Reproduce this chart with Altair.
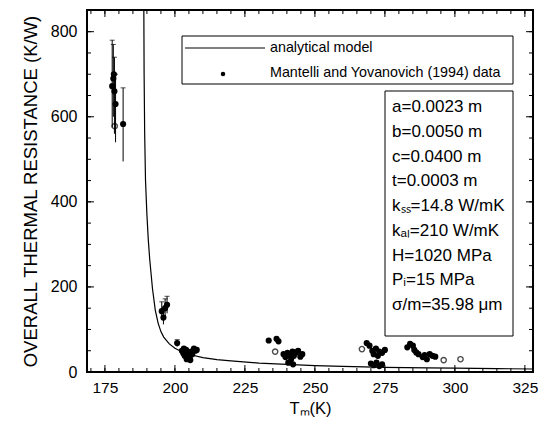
import altair as alt
import pandas as pd

# ---------------- data ----------------
# analytical model curve
model_T = [188.9, 189.0, 189.2, 189.5, 190.0, 190.5, 191.0, 192.0, 193.0, 194.0,
           195.0, 196.0, 198.0, 200.0, 203.0, 206.0, 210.0, 215.0, 220.0, 230.0,
           240.0, 250.0, 260.0, 275.0, 290.0, 300.0, 315.0, 327.9]
model_R = [851, 700, 560, 450, 370, 310, 265, 195, 145, 115,
           95, 82, 66, 56, 46, 40, 34, 29, 26, 21,
           18, 15, 13, 11, 9.5, 9, 8, 7]

# measured points with error bars
eb_T = [177.6, 178.0, 178.4, 178.8, 181.5, 195.3, 195.9, 196.5, 197.2, 200.8]
eb_R = [672, 690, 660, 630, 583, 143, 128, 150, 158, 68]
eb_lo = [575, 600, 560, 540, 495, 122, 112, 130, 138, 60]
eb_hi = [780, 770, 740, 700, 668, 165, 150, 172, 178, 76]

# remaining measured points (no visible error bars)
pt_T = [178.5, 178.2,
        202.5, 203.0, 203.5, 204.0, 204.5, 205.0, 205.3, 205.8, 206.2, 206.8, 207.3, 207.8, 204.2, 205.5, 203.2,
        233.5, 236.3, 237.0, 235.8, 238.8, 239.5, 240.2, 241.0, 241.5, 242.0, 242.5, 243.2, 244.0, 244.8, 245.5, 240.5, 242.2,
        266.8, 268.5, 269.5, 270.5, 271.0, 271.8, 272.5, 273.0, 274.0, 275.0, 270.0, 271.0, 272.0, 273.0, 274.0,
        283.0, 284.0, 285.0, 285.5, 286.2, 287.0, 288.5, 289.2, 290.0, 291.0, 292.0, 293.0, 296.0, 302.0]
pt_R = [578, 700,
        50, 44, 38, 52, 46, 40, 35, 48, 42, 55, 50, 52, 30, 28, 55,
        74, 78, 72, 48, 42, 35, 45, 40, 30, 48, 38, 46, 50, 36, 42, 22, 18,
        54, 68, 62, 50, 42, 55, 38, 48, 45, 52, 20, 16, 22, 14, 18,
        58, 66, 62, 52, 46, 42, 35, 40, 30, 42, 38, 36, 28, 30]
pt_open = [True, False,
           False, False, False, False, False, False, False, False, False, False, False, False, False, False, False,
           False, False, False, True, False, False, False, False, False, False, False, False, False, False, False, False, False,
           True, False, False, False, False, False, False, False, False, False, False, False, False, False, False,
           False, False, False, False, False, False, False, False, False, False, False, False, True, True]

x_ticks = [175, 200, 225, 250, 275, 300, 325]
y_ticks = [0, 200, 400, 600, 800]
x_minor = list(range(170, 330, 5))
y_minor = list(range(0, 851, 50))

legend_labels = ["analytical model", "Mantelli and Yovanovich (1994) data"]
param_labels = ["a=0.0023 m", "b=0.0050 m", "c=0.0400 m", "t=0.0003 m",
                "k\u209b\u209b=14.8 W/mK", "k\u2090\u2097=210 W/mK", "H=1020 MPa",
                "P\u1d62=15 MPa", "\u03c3/m=35.98 \u03bcm"]

# ---------------- chart ----------------
W, H = 446, 362
XD = [168.6, 327.9]
YD = [0, 851]
FONT = "Liberation Sans"

xs = alt.Scale(domain=XD, nice=False, zero=False)
ys = alt.Scale(domain=YD, nice=False, zero=False)

model_df = pd.DataFrame({"T": model_T, "R": model_R})
eb_df = pd.DataFrame({"T": eb_T, "R": eb_R, "lo": eb_lo, "hi": eb_hi})
pts_df = pd.concat([
    pd.DataFrame({"T": eb_T, "R": eb_R, "open": [False] * len(eb_T)}),
    pd.DataFrame({"T": pt_T, "R": pt_R, "open": pt_open}),
], ignore_index=True)

curve = alt.Chart(model_df).mark_line(color="black", strokeWidth=1.2, clip=True).encode(
    x=alt.X("T:Q", scale=xs,
            axis=alt.Axis(values=x_ticks, title="T\u2098(K)", tickSize=0, domain=False, grid=False,
                          labelFontSize=15.5, labelPadding=8, titleFontSize=16.5, titleFontWeight="normal",
                          titlePadding=5, labelColor="black", titleColor="black", labelFont=FONT, titleFont=FONT)),
    y=alt.Y("R:Q", scale=ys,
            axis=alt.Axis(values=y_ticks, title="OVERALL THERMAL RESISTANCE (K/W)", tickSize=0, domain=False,
                          grid=False, labelFontSize=16, labelPadding=10, titleFontSize=18.5,
                          titleFontWeight="normal", titlePadding=10, labelColor="black", titleColor="black",
                          labelFont=FONT, titleFont=FONT)),
    order=alt.Order("T:Q"),
)

bars = alt.Chart(eb_df).mark_rule(color="black", strokeWidth=1).encode(
    x=alt.X("T:Q", scale=xs), y=alt.Y("lo:Q", scale=ys), y2="hi:Q")
caps = alt.Chart(eb_df).mark_tick(color="black", thickness=1, size=5, orient="horizontal").encode(
    x=alt.X("T:Q", scale=xs), y=alt.Y("hi:Q", scale=ys))

filled = alt.Chart(pts_df).transform_filter("!datum.open").mark_circle(
    color="black", size=38, opacity=1).encode(x=alt.X("T:Q", scale=xs), y=alt.Y("R:Q", scale=ys))
opened = alt.Chart(pts_df).transform_filter("datum.open").mark_point(
    color="black", size=28, strokeWidth=1.4, filled=False, shape="circle").encode(
    x=alt.X("T:Q", scale=xs), y=alt.Y("R:Q", scale=ys))

# inward ticks on all four sides
def xtick_layer(vals, L):
    d = pd.DataFrame({"v": [v for v in vals if XD[0] <= v <= XD[1]]})
    b = alt.Chart(d).mark_rule(color="black", strokeWidth=1).encode(
        x=alt.X("v:Q", scale=xs), y=alt.value(H), y2=alt.value(H - L))
    t = alt.Chart(d).mark_rule(color="black", strokeWidth=1).encode(
        x=alt.X("v:Q", scale=xs), y=alt.value(0), y2=alt.value(L))
    return b + t

def ytick_layer(vals, L):
    d = pd.DataFrame({"v": [v for v in vals if YD[0] <= v <= YD[1]]})
    l = alt.Chart(d).mark_rule(color="black", strokeWidth=1).encode(
        y=alt.Y("v:Q", scale=ys), x=alt.value(0), x2=alt.value(L))
    r = alt.Chart(d).mark_rule(color="black", strokeWidth=1).encode(
        y=alt.Y("v:Q", scale=ys), x=alt.value(W), x2=alt.value(W - L))
    return l + r

ticks = xtick_layer(x_minor, 4) + xtick_layer(x_ticks, 7) + ytick_layer(y_minor, 4) + ytick_layer(y_ticks, 7)

# legend box and parameter box
box_df = pd.DataFrame({"x1": [95, 298], "x2": [426, 426], "y1": [26, 81], "y2": [74, 326]})
boxes = alt.Chart(box_df).mark_rect(fill="white", stroke="black", strokeWidth=1).encode(
    x=alt.X("x1:Q", scale=None), x2="x2:Q", y=alt.Y("y1:Q", scale=None), y2="y2:Q")

leg_line = alt.Chart(pd.DataFrame({"a": [0]})).mark_rule(color="black", strokeWidth=1).encode(
    x=alt.value(98), x2=alt.value(178), y=alt.value(38))
leg_dot = alt.Chart(pd.DataFrame({"a": [0]})).mark_circle(color="black", size=20, opacity=1).encode(
    x=alt.value(136), y=alt.value(64))
leg_text_df = pd.DataFrame({"label": legend_labels, "px": [183, 183], "py": [38, 63]})
leg_text = alt.Chart(leg_text_df).mark_text(align="left", baseline="middle", fontSize=14.3, font=FONT,
                                            color="black").encode(
    x=alt.X("px:Q", scale=None), y=alt.Y("py:Q", scale=None), text="label:N")

par_df = pd.DataFrame({"label": param_labels, "px": [305] * len(param_labels),
                       "py": [97 + 24.75 * i for i in range(len(param_labels))]})
par_text = alt.Chart(par_df).mark_text(align="left", baseline="middle", fontSize=17, font=FONT,
                                       color="black").encode(
    x=alt.X("px:Q", scale=None), y=alt.Y("py:Q", scale=None), text="label:N")

chart = alt.layer(curve, bars, caps, filled, opened, ticks, boxes, leg_line, leg_dot, leg_text, par_text).properties(
    width=W, height=H, autosize=alt.AutoSizeParams(type="none"),
    padding={"left": 87, "top": 10, "right": 541 - 87 - W, "bottom": 425 - 10 - H},
    background="white",
).configure_view(stroke="black", strokeWidth=2)

chart.save("out.html", embed_options={"renderer": "svg", "actions": False})
